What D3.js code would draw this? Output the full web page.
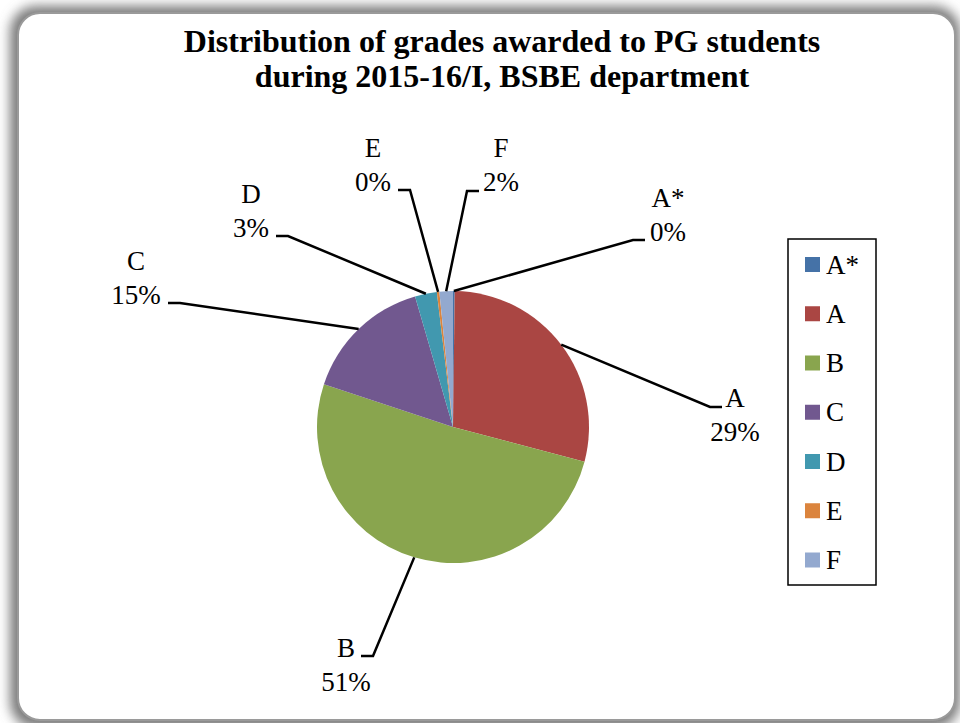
<!DOCTYPE html>
<html lang="en">
<head>
  <meta charset="UTF-8">
  <title>Distribution of grades - BSBE</title>
  <style>
    body {
      margin: 0;
      background: #ffffff;
    }
    svg {
      display: block;
    }
    text {
      font-family: "Liberation Serif", "Times New Roman", serif;
      fill: #000;
    }
  </style>
</head>
<body>
  <svg id="chart" width="960" height="723"></svg>

  <script src="https://d3js.org/d3.v7.min.js"></script>
  <script>
    // grade shares in percent
    const grades = ["A*", "A", "B", "C", "D", "E", "F"];
    const shares = [0.2, 28.9, 51.0, 15.4, 2.6, 0.3, 1.6];
    const colors = ["#4572A7", "#AA4643", "#89A54E", "#71588F", "#4198AF", "#DB843D", "#93A9CF"];
    const titleLines = ["Distribution of grades awarded to PG students", "during 2015-16/I, BSBE department"];

    // label layout, relative to the pie centre (text centre x, first baseline y, elbow x/y, tick dir)
    const labelLayout = [
      { tx: 215, ty: -220, ex: 180, ey: -187, dir: 1 },
      { tx: 282, ty: -20, ex: 257, ey: -20, dir: 1 },
      { tx: -107, ty: 230, ex: -80, ey: 229, dir: -1 },
      { tx: -317, ty: -157, ex: -273, ey: -124, dir: -1 },
      { tx: -202, ty: -224, ex: -165, ey: -191, dir: -1 },
      { tx: -80, ty: -270, ex: -43, ey: -237, dir: -1 },
      { tx: 48, ty: -270, ex: 14, ey: -236, dir: 1 }
    ];

    const svg = d3.select("#chart");
    const cx = 453, cy = 427, radius = 136;

    // frame with soft shadow
    const defs = svg.append("defs");
    defs.append("filter")
      .attr("id", "blur")
      .attr("x", "-10%").attr("y", "-10%")
      .attr("width", "120%").attr("height", "120%")
      .append("feGaussianBlur")
      .attr("stdDeviation", 6);

    svg.append("rect")
      .attr("x", 10).attr("y", 6)
      .attr("width", 950).attr("height", 722)
      .attr("rx", 26)
      .attr("fill", "#7a7a7a")
      .attr("filter", "url(#blur)");

    svg.append("rect")
      .attr("x", 18).attr("y", 13)
      .attr("width", 937).attr("height", 707)
      .attr("rx", 22)
      .attr("fill", "#fff")
      .attr("stroke", "#9a9a9a")
      .attr("stroke-width", 2);

    // title
    svg.append("text")
      .attr("x", 502)
      .attr("y", 52)
      .attr("text-anchor", "middle")
      .attr("font-size", "32px")
      .attr("font-weight", "bold")
      .selectAll("tspan")
      .data(titleLines)
      .join("tspan")
      .attr("x", 502)
      .attr("dy", (d, i) => i === 0 ? 0 : 35)
      .text(d => d);

    // pie
    const pieData = d3.pie().sort(null).value(d => d)(shares);
    const arc = d3.arc().innerRadius(0).outerRadius(radius);

    const g = svg.append("g").attr("transform", `translate(${cx},${cy})`);

    g.selectAll("path.slice")
      .data(pieData)
      .join("path")
      .attr("class", "slice")
      .attr("d", arc)
      .attr("fill", (d, i) => colors[i]);

    // leader lines
    g.selectAll("polyline.leader")
      .data(pieData)
      .join("polyline")
      .attr("class", "leader")
      .attr("fill", "none")
      .attr("stroke", "#000")
      .attr("stroke-width", 2.5)
      .attr("points", (d, i) => {
        const a = (d.startAngle + d.endAngle) / 2;
        const sx = Math.sin(a) * radius;
        const sy = -Math.cos(a) * radius;
        const L = labelLayout[i];
        return [[sx, sy], [L.ex, L.ey], [L.ex + L.dir * 12, L.ey]].join(" ");
      });

    // data labels
    const labels = g.selectAll("text.label")
      .data(pieData)
      .join("text")
      .attr("class", "label")
      .attr("text-anchor", "middle")
      .attr("font-size", "27px");

    labels.append("tspan")
      .attr("x", (d, i) => labelLayout[i].tx)
      .attr("y", (d, i) => labelLayout[i].ty)
      .text((d, i) => grades[i]);

    labels.append("tspan")
      .attr("x", (d, i) => labelLayout[i].tx)
      .attr("y", (d, i) => labelLayout[i].ty + 34)
      .text(d => Math.round(d.value) + "%");

    // legend
    const legendY = d3.scalePoint().domain(grades).range([264.5, 560]);

    svg.append("rect")
      .attr("x", 788).attr("y", 239)
      .attr("width", 88).attr("height", 346)
      .attr("fill", "#fff")
      .attr("stroke", "#000")
      .attr("stroke-width", 1.5);

    const items = svg.selectAll("g.legend-item")
      .data(grades)
      .join("g")
      .attr("class", "legend-item")
      .attr("transform", d => `translate(805,${legendY(d)})`);

    items.append("rect")
      .attr("x", 0).attr("y", -7.5)
      .attr("width", 15).attr("height", 15)
      .attr("fill", (d, i) => colors[i]);

    items.append("text")
      .attr("x", 21)
      .attr("y", 9)
      .attr("font-size", "27px")
      .text(d => d);
  </script>
</body>
</html>
